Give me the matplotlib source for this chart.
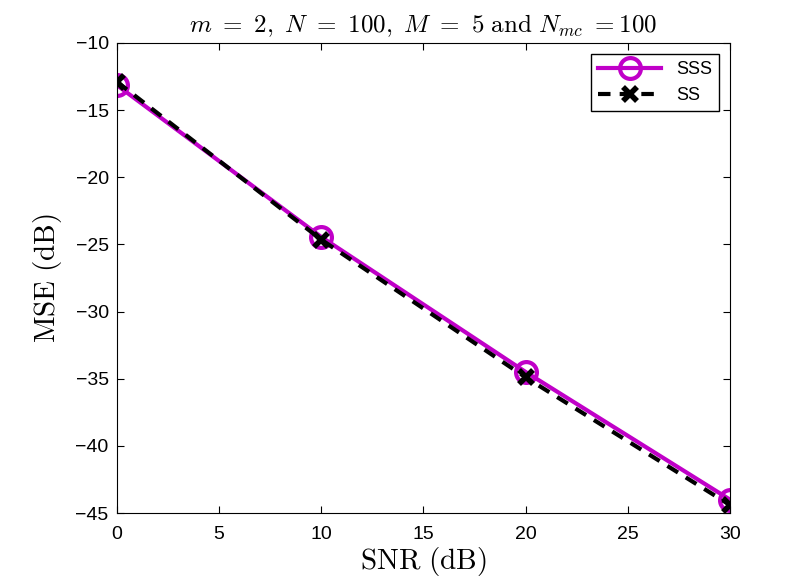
import matplotlib
matplotlib.use("Agg")
import matplotlib.pyplot as plt
import numpy as np

plt.rcParams["mathtext.fontset"] = "cm"
plt.rcParams["font.family"] = ["Liberation Sans", "DejaVu Sans"]

snr = [0, 10, 20, 30]
mse_sss = [-13.15, -24.45, -34.5, -44.0]
mse_ss = [-12.9, -24.65, -34.9, -44.4]
xticks = [0, 5, 10, 15, 20, 25, 30]
yticks = [-45, -40, -35, -30, -25, -20, -15, -10]

fig = plt.figure(figsize=(8.07, 5.8), dpi=100)
ax = fig.add_axes([0.145, 0.1155, 0.7595, 0.8105])

ax.plot(snr, mse_sss, color="#c000c8", linewidth=3, marker="o", markersize=15,
        markerfacecolor="none", markeredgewidth=3, label="SSS")
ax.plot(snr, mse_ss, color="black", linewidth=3, linestyle=(0, (3, 2.2)), marker="x",
        markersize=10, markeredgewidth=4, label="SS")

ax.set_xlim(0, 30)
ax.set_ylim(-45, -10)
ax.set_xticks(xticks)
ax.set_yticks(yticks)
ax.tick_params(direction="in", top=True, right=True, labelsize=14, length=5)
ax.tick_params(axis="x", pad=9)
ax.tick_params(axis="y", pad=6)

ax.set_xlabel(r"$\mathrm{SNR\ (dB)}$", fontsize=21, labelpad=2)
ax.set_ylabel(r"$\mathrm{MSE\ (dB)}$", fontsize=21, labelpad=8)
ax.set_title(r"$m\ =\ 2,\ N\ =\ 100,\ M\ =\ 5\ \mathrm{and}\ N_{mc}\ {=}100$",
             fontsize=18, pad=8)

ax.legend(loc="upper right", fontsize=13, fancybox=False, edgecolor="black",
          framealpha=1, handlelength=3.5, borderaxespad=0.6)

fig.savefig("out.png", dpi=100)
